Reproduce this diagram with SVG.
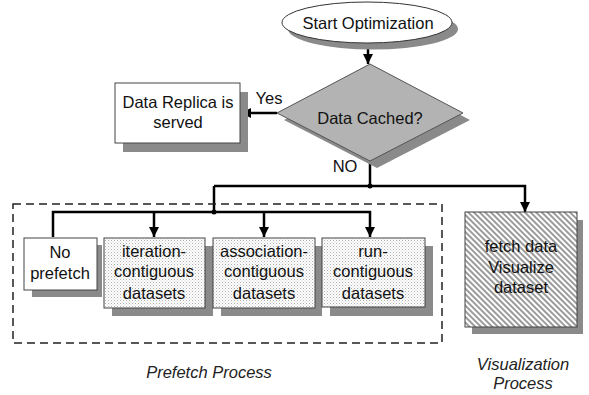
<svg xmlns="http://www.w3.org/2000/svg" width="589" height="395" viewBox="0 0 589 395">
<style>
text{font-family:"Liberation Sans",Arial,sans-serif;font-size:16.5px;fill:#111;text-anchor:middle}
.it{font-style:italic;fill:#222}
.shadow{fill:#8a8a8a;stroke:none}
.box{stroke:#444;stroke-width:1}
.line{fill:none;stroke:#000;stroke-width:2.5}
</style>
<defs>
<pattern id="dots" patternUnits="userSpaceOnUse" width="3" height="3">
<rect width="3" height="3" fill="#fff"/>
<rect width="1" height="1" fill="#b0b0b0"/>
<rect x="1.5" y="1.5" width="1" height="1" fill="#c8c8c8"/>
</pattern>
<pattern id="hatch" patternUnits="userSpaceOnUse" width="4" height="4" patternTransform="rotate(-45)">
<rect width="4" height="4" fill="#fff"/>
<line x1="1" y1="0" x2="1" y2="4" stroke="#7a7a7a" stroke-width="1.5"/>
</pattern>
<marker id="ah" markerUnits="userSpaceOnUse" markerWidth="10" markerHeight="12" refX="10" refY="5" orient="auto">
<path d="M0,0 L10,5 L0,10 z" fill="#000"/>
</marker>
</defs>

<g id="connectors">
<line class="line" x1="368" y1="43" x2="368" y2="64" marker-end="url(#ah)"/>
<line class="line" x1="277" y1="113" x2="241" y2="113" marker-end="url(#ah)"/>
<polyline class="line" points="370,160 370,186"/>
<polyline class="line" points="214,186 525,186 525,212" marker-end="url(#ah)"/>
<polyline class="line" points="214,186 214,212"/>
<polyline class="line" points="53,237 53,212 370,212 370,237" marker-end="url(#ah)"/>
<line class="line" x1="154" y1="212" x2="154" y2="237" marker-end="url(#ah)"/>
<line class="line" x1="264" y1="212" x2="264" y2="237" marker-end="url(#ah)"/>
<circle cx="370" cy="186" r="2.5" fill="#000"/>
<circle cx="214" cy="212" r="2.5" fill="#000"/>
<text x="269" y="104">Yes</text>
<text x="345" y="172">NO</text>
</g>

<g id="start">
<ellipse class="shadow" cx="373" cy="29" rx="85" ry="20.5"/>
<ellipse cx="367" cy="22.5" rx="85" ry="20.5" fill="#fff" stroke="#333" stroke-width="1"/>
<text x="368" y="29">Start Optimization</text>
</g>

<g id="cached">
<polygon class="shadow" points="377,71 470,120 377,168 284,120"/>
<polygon points="370,64 463,113 370,161 277,113" fill="#b3b3b3" stroke="#555" stroke-width="1"/>
<text x="370" y="124">Data Cached?</text>
</g>

<g id="replica">
<rect class="shadow" x="123" y="92" width="125" height="60"/>
<rect class="box" x="115" y="83" width="125" height="60" fill="#fff"/>
<text x="178" y="108">Data Replica is</text>
<text x="178" y="128">served</text>
</g>

<g id="prefetch-group">
<rect x="13" y="204" width="429" height="139" fill="none" stroke="#222" stroke-width="1.5" stroke-dasharray="8,5"/>
</g>

<g id="noprefetch">
<rect class="shadow" x="32" y="245" width="70" height="52"/>
<rect class="box" x="24" y="238" width="73" height="52" fill="#fff"/>
<text x="60" y="258">No</text>
<text x="60" y="279">prefetch</text>
</g>

<g id="iteration">
<rect class="shadow" x="112" y="246" width="101" height="70"/>
<rect class="box" x="104" y="238" width="101" height="70" fill="url(#dots)"/>
<text x="154" y="257">iteration-</text>
<text x="154" y="277">contiguous</text>
<text x="154" y="299">datasets</text>
</g>

<g id="association">
<rect class="shadow" x="221" y="246" width="101" height="70"/>
<rect class="box" x="213" y="238" width="102" height="70" fill="url(#dots)"/>
<text x="264" y="257">association-</text>
<text x="264" y="277">contiguous</text>
<text x="264" y="299">datasets</text>
</g>

<g id="run">
<rect class="shadow" x="330" y="246" width="103" height="70"/>
<rect class="box" x="322" y="238" width="103" height="69" fill="url(#dots)"/>
<text x="373" y="257">run-</text>
<text x="373" y="277">contiguous</text>
<text x="373" y="299">datasets</text>
</g>

<g id="visualize">
<rect class="shadow" x="472" y="220" width="111" height="114"/>
<rect class="box" x="465" y="212" width="112" height="115" fill="url(#hatch)"/>
<text x="521" y="252" fill="#222">fetch data</text>
<text x="521" y="273" fill="#222">Visualize</text>
<text x="521" y="293" fill="#222">dataset</text>
</g>

<text class="it" x="209" y="378">Prefetch Process</text>
<text class="it" x="523" y="370">Visualization</text>
<text class="it" x="523" y="389">Process</text>
</svg>
